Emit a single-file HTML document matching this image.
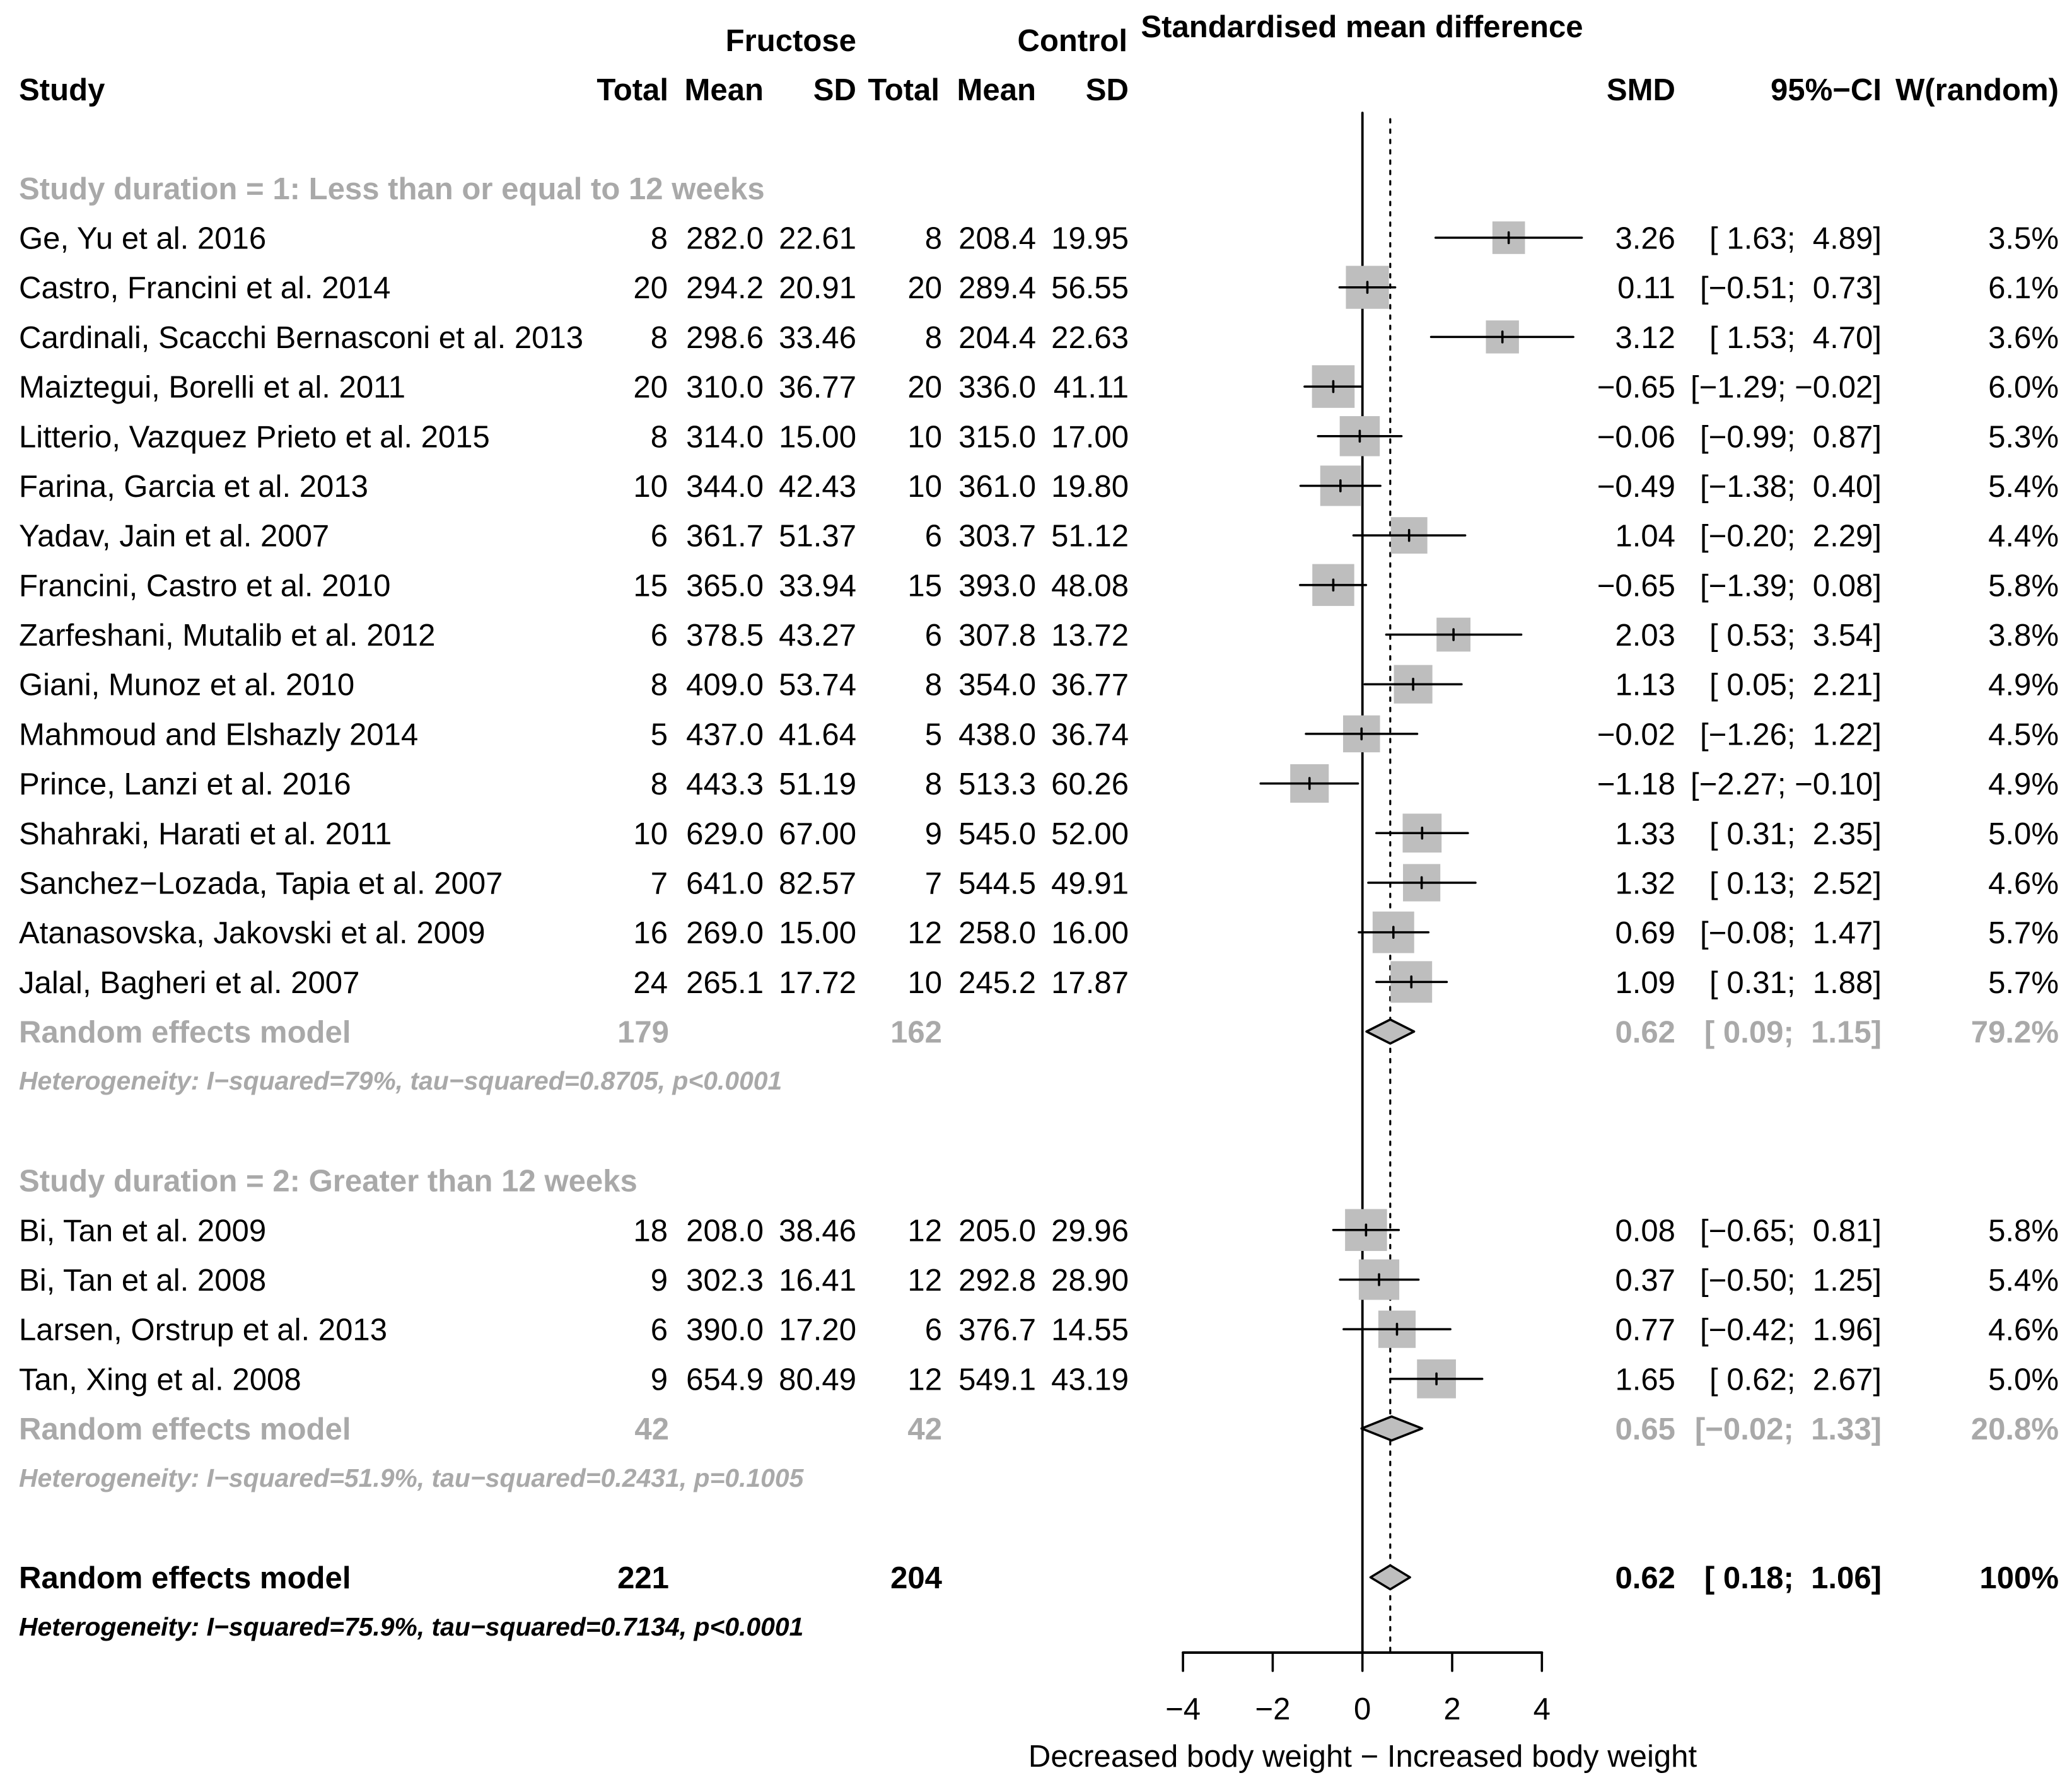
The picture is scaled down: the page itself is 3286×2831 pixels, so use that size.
<!DOCTYPE html>
<html lang="en">
<head>
<meta charset="utf-8">
<title>Forest plot: fructose and body weight</title>
<style>
html,body{margin:0;padding:0;background:#fff}
svg{display:block}
text{font-family:"Liberation Sans",Arial,Helvetica,sans-serif;font-size:49.1px;white-space:pre;fill:#000}
.b{font-weight:bold}
.het{font-weight:bold;font-style:italic;font-size:40.9px}
.grey{fill:#a9a9a9}
.e{text-anchor:end}
.c{text-anchor:middle}
</style>
</head>
<body>
<svg id="chart" xmlns="http://www.w3.org/2000/svg" width="3286" height="2831" viewBox="0 0 3286 2831">
<rect x="0" y="0" width="3286" height="2831" fill="#ffffff"/>
<text class="b c" x="2160" y="59">Standardised mean difference</text>
<text class="b e" x="1358" y="81">Fructose</text>
<text class="b e" x="1788" y="81">Control</text>
<text class="b" x="30" y="159">Study</text>
<text class="b e" x="1060" y="159">Total</text>
<text class="b e" x="1211" y="159">Mean</text>
<text class="b e" x="1358" y="159">SD</text>
<text class="b e" x="1490" y="159">Total</text>
<text class="b e" x="1643" y="159">Mean</text>
<text class="b e" x="1790" y="159">SD</text>
<text class="b e" x="2657" y="159">SMD</text>
<text class="b e" x="2984" y="159">95%−CI</text>
<text class="b e" x="3265" y="159">W(random)</text>
<text class="c" x="2161" y="2802">Decreased body weight − Increased body weight</text>
</svg>
<script>
// Study table data, in display order
var studies = ["Ge, Yu et al. 2016","Castro, Francini et al. 2014","Cardinali, Scacchi Bernasconi et al. 2013","Maiztegui, Borelli et al. 2011","Litterio, Vazquez Prieto et al. 2015","Farina, Garcia et al. 2013","Yadav, Jain et al. 2007","Francini, Castro et al. 2010","Zarfeshani, Mutalib et al. 2012","Giani, Munoz et al. 2010","Mahmoud and Elshazly 2014","Prince, Lanzi et al. 2016","Shahraki, Harati et al. 2011","Sanchez−Lozada, Tapia et al. 2007","Atanasovska, Jakovski et al. 2009","Jalal, Bagheri et al. 2007","Bi, Tan et al. 2009","Bi, Tan et al. 2008","Larsen, Orstrup et al. 2013","Tan, Xing et al. 2008"];
var fructoseTotal = [8,20,8,20,8,10,6,15,6,8,5,8,10,7,16,24,18,9,6,9];
var fructoseMean = [282.0,294.2,298.6,310.0,314.0,344.0,361.7,365.0,378.5,409.0,437.0,443.3,629.0,641.0,269.0,265.1,208.0,302.3,390.0,654.9];
var fructoseSD = [22.61,20.91,33.46,36.77,15.00,42.43,51.37,33.94,43.27,53.74,41.64,51.19,67.00,82.57,15.00,17.72,38.46,16.41,17.20,80.49];
var controlTotal = [8,20,8,20,10,10,6,15,6,8,5,8,9,7,12,10,12,12,6,12];
var controlMean = [208.4,289.4,204.4,336.0,315.0,361.0,303.7,393.0,307.8,354.0,438.0,513.3,545.0,544.5,258.0,245.2,205.0,292.8,376.7,549.1];
var controlSD = [19.95,56.55,22.63,41.11,17.00,19.80,51.12,48.08,13.72,36.77,36.74,60.26,52.00,49.91,16.00,17.87,29.96,28.90,14.55,43.19];
var smd = [3.26,0.11,3.12,-0.65,-0.06,-0.49,1.04,-0.65,2.03,1.13,-0.02,-1.18,1.33,1.32,0.69,1.09,0.08,0.37,0.77,1.65];
var ciLower = [1.63,-0.51,1.53,-1.29,-0.99,-1.38,-0.20,-1.39,0.53,0.05,-1.26,-2.27,0.31,0.13,-0.08,0.31,-0.65,-0.50,-0.42,0.62];
var ciUpper = [4.89,0.73,4.70,-0.02,0.87,0.40,2.29,0.08,3.54,2.21,1.22,-0.10,2.35,2.52,1.47,1.88,0.81,1.25,1.96,2.67];
var weight = [3.5,6.1,3.6,6.0,5.3,5.4,4.4,5.8,3.8,4.9,4.5,4.9,5.0,4.6,5.7,5.7,5.8,5.4,4.6,5.0];
var studyRows = [0,1,2,3,4,5,6,7,8,9,10,11,12,13,14,15,20,21,22,23];

// Pooled estimates
var poolNames = ["subgroup-1-random-effects","subgroup-2-random-effects","overall-random-effects"];
var poolLabels = ["Random effects model","Random effects model","Random effects model"];
var poolFructoseTotal = [179,42,221];
var poolControlTotal = [162,42,204];
var poolSmd = [0.62,0.65,0.62];
var poolLower = [0.09,-0.02,0.18];
var poolUpper = [1.15,1.33,1.06];
var poolWeight = ["79.2%","20.8%","100%"];
var poolRows = [16,24,27];
var poolGrey = [true,true,false];

// Subgroup titles and heterogeneity notes
var groupTitles = ["Study duration = 1: Less than or equal to 12 weeks","Study duration = 2: Greater than 12 weeks"];
var groupRows = [-1,19];
var hetNotes = ["Heterogeneity: I−squared=79%, tau−squared=0.8705, p<0.0001","Heterogeneity: I−squared=51.9%, tau−squared=0.2431, p=0.1005","Heterogeneity: I−squared=75.9%, tau−squared=0.7134, p<0.0001"];
var hetRows = [17,25,28];
var hetGrey = [true,true,false];

// Axis
var xTicks = [-4,-2,0,2,4];
var refEffect = 0.62;

var NS = "http://www.w3.org/2000/svg";
var svg = document.getElementById("chart");
var X0 = 2160.7, UNIT = 71.15, ROW0 = 377, ROWSTEP = 78.69, BOX = 27.6;
var COL = {ft:1059, fm:1211, fs:1358, ct:1494, cm:1643, cs:1790, smd:2657, ci:2984, w:3265};

function xs(v){ return X0 + v * UNIT; }
function ys(r){ return ROW0 + r * ROWSTEP; }
function boxSide(w){ return BOX * Math.sqrt(w); }
function num(v,d){ return v.toFixed(d).replace("-","−"); }
function pad(v){ var s = num(v,2); return v < 0 ? s : " " + s; }
function ciText(l,u){ return "[" + pad(l) + "; " + pad(u) + "]"; }

function addText(name, str, x, y, cls){
  var el = document.createElementNS(NS,"text");
  el.setAttribute("x", x);
  el.setAttribute("y", y);
  el.setAttribute("class", cls);
  el.textContent = str;
  
  
  svg.appendChild(el);
  return el;
}
function addLine(name, x1, y1, x2, y2, w, dash){
  var el = document.createElementNS(NS,"line");
  el.setAttribute("x1", x1);
  el.setAttribute("y1", y1);
  el.setAttribute("x2", x2);
  el.setAttribute("y2", y2);
  el.setAttribute("stroke", "#000");
  el.setAttribute("stroke-width", w);
  el.setAttribute("stroke-linecap", "round");
  if (dash) el.setAttribute("stroke-dasharray", dash);
  
  
  svg.appendChild(el);
  return el;
}

// Reference lines
addLine("null-effect-line", xs(0), 179, xs(0), 2621, 3.8);
addLine("random-effect-reference-line", xs(refEffect), 189, xs(refEffect), 2621, 3.2, "5.3 11.08");

// Study rows
studies.forEach(function(s,i){
  var r = studyRows[i], cy = ys(r), by = cy + 17.5;
  var side = boxSide(weight[i]);
  var box = document.createElementNS(NS,"rect");
  box.setAttribute("x", xs(smd[i]) - side/2);
  box.setAttribute("y", cy - side/2);
  box.setAttribute("width", side);
  box.setAttribute("height", side);
  box.setAttribute("fill", "#bebebe");
  
  
  svg.appendChild(box);
  addLine("study-confidence-interval", xs(ciLower[i]), cy, xs(ciUpper[i]), cy, 3.5);
  addLine("study-estimate-tick", xs(smd[i]), cy - 8.5, xs(smd[i]), cy + 8.5, 3.6);
  addText("study-name", s, 30, by, "");
  addText("fructose-total", String(fructoseTotal[i]), COL.ft, by, "e");
  addText("fructose-mean", num(fructoseMean[i],1), COL.fm, by, "e");
  addText("fructose-sd", num(fructoseSD[i],2), COL.fs, by, "e");
  addText("control-total", String(controlTotal[i]), COL.ct, by, "e");
  addText("control-mean", num(controlMean[i],1), COL.cm, by, "e");
  addText("control-sd", num(controlSD[i],2), COL.cs, by, "e");
  addText("study-smd", num(smd[i],2), COL.smd, by, "e");
  addText("study-ci", ciText(ciLower[i],ciUpper[i]), COL.ci, by, "e");
  addText("study-weight", weight[i].toFixed(1) + "%", COL.w, by, "e");
});

// Pooled rows
poolNames.forEach(function(n,i){
  var cy = ys(poolRows[i]), by = cy + 17.5;
  var cls = poolGrey[i] ? " b grey" : " b";
  var d = document.createElementNS(NS,"polygon");
  d.setAttribute("points", xs(poolLower[i]) + "," + cy + " " + xs(poolSmd[i]) + "," + (cy-19) + " " + xs(poolUpper[i]) + "," + cy + " " + xs(poolSmd[i]) + "," + (cy+19));
  d.setAttribute("fill", "#bebebe");
  d.setAttribute("stroke", "#000");
  d.setAttribute("stroke-width", "3.6");
  d.setAttribute("stroke-linejoin", "round");
  
  
  svg.appendChild(d);
  addText(n + "-label", poolLabels[i], 30, by, cls);
  addText(n + "-fructose-total", String(poolFructoseTotal[i]), COL.ft + 2, by, "e" + cls);
  addText(n + "-control-total", String(poolControlTotal[i]), COL.ct, by, "e" + cls);
  addText(n + "-smd", num(poolSmd[i],2), COL.smd, by, "e" + cls);
  addText(n + "-ci", ciText(poolLower[i],poolUpper[i]), COL.ci, by, "e" + cls);
  addText(n + "-weight", poolWeight[i], COL.w, by, "e" + cls);
});

// Subgroup titles
groupTitles.forEach(function(t,i){
  addText("subgroup-title", t, 30, ys(groupRows[i]) + 17.5, "b grey");
});

// Heterogeneity notes
hetNotes.forEach(function(t,i){
  addText("heterogeneity-note", t, 30, ys(hetRows[i]) + 13.5, hetGrey[i] ? "het grey" : "het");
});

// X axis
addLine("x-axis-line", xs(xTicks[0]), 2621, xs(xTicks[xTicks.length-1]), 2621, 4);
xTicks.forEach(function(t){
  addLine("x-axis-tick", xs(t), 2621, xs(t), 2650, 3.6);
  addText("x-axis-tick-label", String(t).replace("-","−"), xs(t), 2727, "c");
});
</script>
</body>
</html>
